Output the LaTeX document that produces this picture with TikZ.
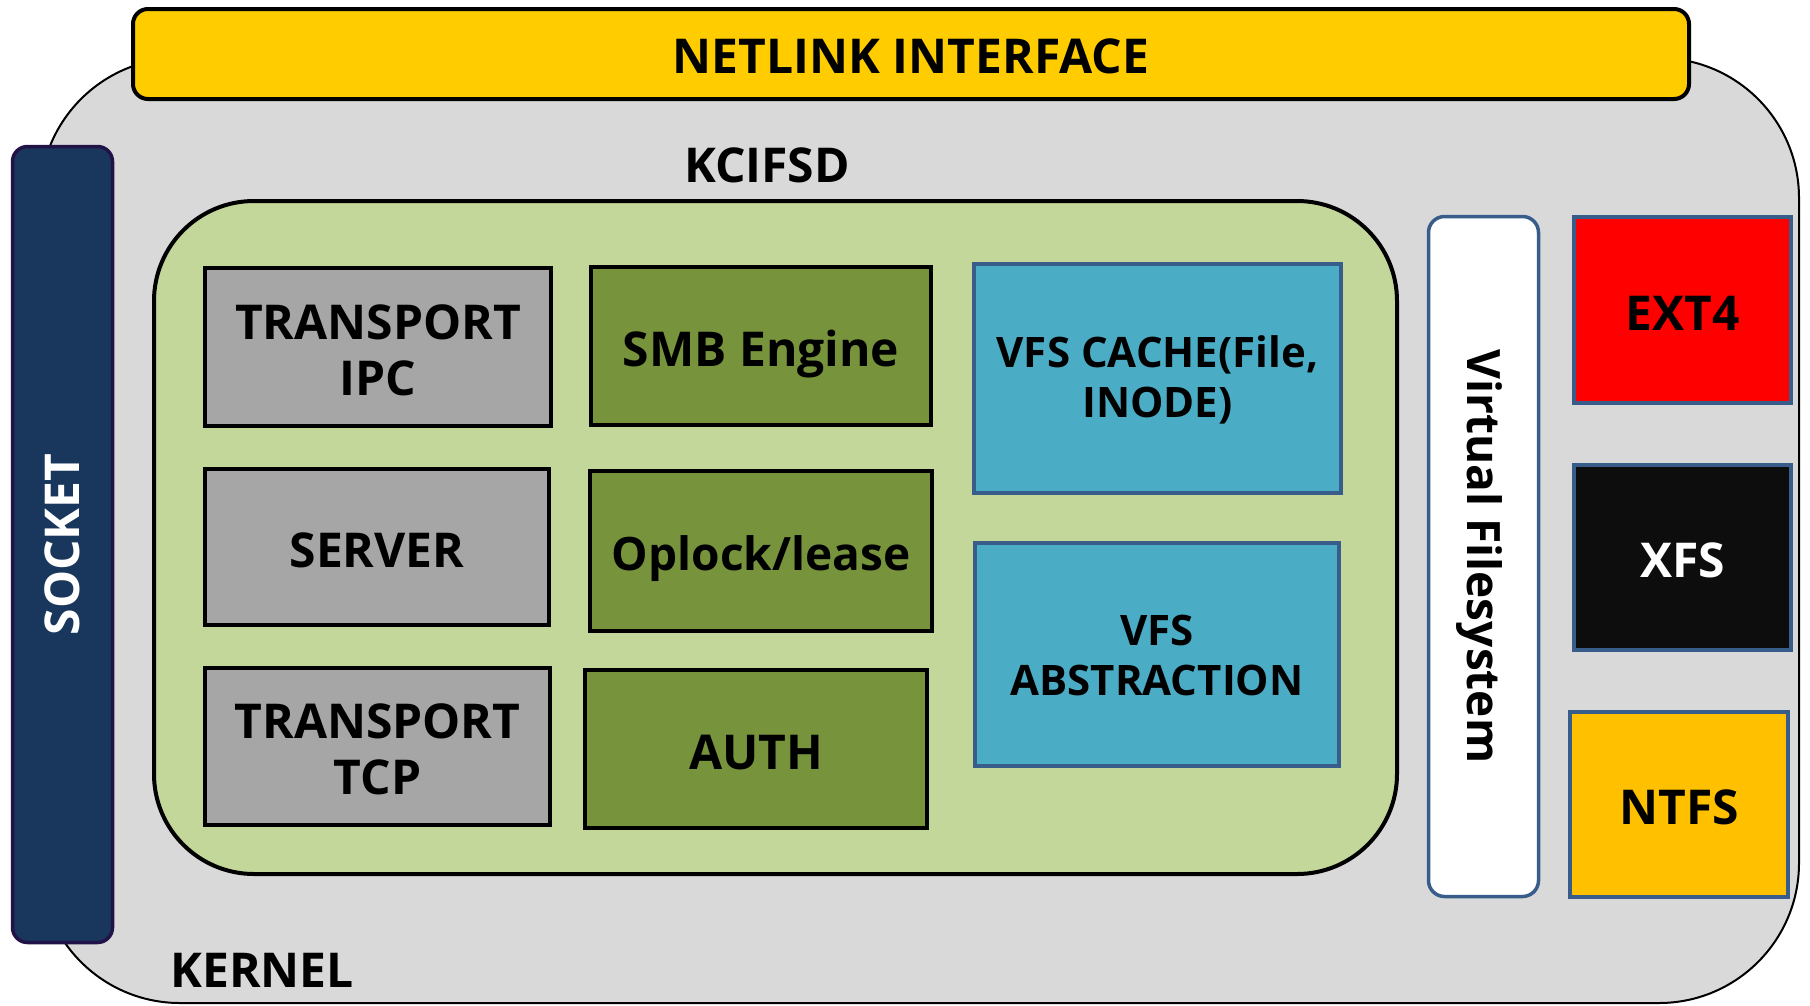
\documentclass[tikz,border=0pt]{standalone}
\usepackage{fontspec}
\setmainfont{Open Sans}
\definecolor{kgray}{RGB}{217,217,217}
\definecolor{netyellow}{RGB}{255,204,0}
\definecolor{socknavy}{RGB}{25,54,92}
\definecolor{sockborder}{RGB}{34,19,70}
\definecolor{lightgreen}{RGB}{196,215,155}
\definecolor{boxgray}{RGB}{166,166,166}
\definecolor{olive}{RGB}{119,147,60}
\definecolor{vfsblue}{RGB}{75,172,198}
\definecolor{steel}{RGB}{56,93,138}
\definecolor{ntfsorange}{RGB}{255,192,0}
\definecolor{xfsblack}{RGB}{13,13,13}
\tikzset{
  lbl/.style={font=\fontsize{48}{56}\selectfont\bfseries, align=center, text=black},
  one/.style={text height=40pt, text depth=0pt},
  blk/.style={draw=black, line width=4pt, inner sep=0pt, lbl},
  grbox/.style={blk, fill=boxgray},
  olbox/.style={blk, fill=olive},
  bluebox/.style={draw=steel, line width=4pt, inner sep=0pt, fill=vfsblue},
  bluelbl/.style={lbl, font=\fontsize{42}{50}\selectfont\bfseries},
  fsbox/.style={draw=steel, line width=3.5pt, inner sep=0pt, lbl, one},
}
\begin{document}
\begin{tikzpicture}[x=1pt,y=-1pt]
\useasboundingbox (0,0) rectangle (1810,1005);
% kernel
\node[draw=black, line width=2pt, fill=kgray, rounded corners=140pt, inner sep=0pt,
      minimum width=1759pt, minimum height=945pt] (kernel) at (919.5,530.5) {};
\node[lbl] (kernellbl) at (262,970) {KERNEL};
% netlink
\node[draw=black, line width=4pt, fill=netyellow, rounded corners=15pt, inner sep=0pt, lbl,
      text height=39pt, text depth=0pt,
      minimum width=1556pt, minimum height=90pt] (netlink) at (911,54) {NETLINK INTERFACE};
% socket
\node[draw=sockborder, line width=3.5pt, fill=socknavy, rounded corners=15pt, inner sep=0pt,
      minimum width=100pt, minimum height=796pt] (socket) at (62.5,544.5) {};
\node[lbl, text=white, rotate=90, text height=34.3pt, text depth=0pt] (socketlbl) at (socket.center) {SOCKET};
% kcifsd
\node[lbl] (kcifsdlbl) at (767,165) {KCIFSD};
\node[draw=black, line width=4pt, fill=lightgreen, rounded corners=100pt, inner sep=0pt,
      minimum width=1243pt, minimum height=673pt] (kcifsd) at (775.5,537.5) {};
% gray boxes
\node[grbox, minimum width=346pt, minimum height=158pt] (tipc) at (378,347) {};
\node[lbl] (tipclbl) at ([yshift=-3pt]tipc.center) {TRANSPORT\\IPC};
\node[grbox, one, minimum width=344pt, minimum height=156pt] (server) at (377,547) {SERVER};
\node[grbox, minimum width=345pt, minimum height=157pt] (ttcp) at (377.5,746.5) {};
\node[lbl] (ttcplbl) at ([yshift=-2.5pt]ttcp.center) {TRANSPORT\\TCP};
% olive boxes
\node[olbox, one, minimum width=340pt, minimum height=158pt] (smb) at (761,346) {SMB Engine};
\node[olbox, font=\fontsize{46}{54}\selectfont\bfseries, text height=38.8pt, text depth=0pt,
      minimum width=342pt, minimum height=160pt] (oplock) at (761,551) {Oplock/lease};
\node[olbox, one, minimum width=342pt, minimum height=158pt] (auth) at (756,749) {AUTH};
% blue boxes
\node[bluebox, minimum width=367pt, minimum height=229pt] (vfscache) at (1157.5,378.5) {};
\node[bluelbl] (vfscachelbl) at ([yshift=-1pt]vfscache.center) {VFS CACHE(File,\\INODE)};
\node[bluebox, minimum width=364pt, minimum height=223pt] (vfsabs) at (1157,654.5) {};
\node[bluelbl] (vfsabslbl) at ([yshift=-1pt]vfsabs.center) {VFS\\ABSTRACTION};
% virtual filesystem
\node[draw=steel, line width=3.5pt, fill=white, rounded corners=16pt, inner sep=0pt,
      minimum width=110pt, minimum height=680pt] (vfs) at (1483.5,556.5) {};
\node[lbl, font=\fontsize{46}{54}\selectfont\bfseries, rotate=-90, text height=32.8pt, text depth=0pt]
      (vfslbl) at (vfs.center) {Virtual Filesystem};
% file systems
\node[fsbox, fill=red, minimum width=217pt, minimum height=186pt] (ext4) at (1682.5,310) {EXT4};
\node[fsbox, fill=xfsblack, text=white, minimum width=217pt, minimum height=185pt] (xfs) at (1682.5,557.5) {XFS};
\node[fsbox, fill=ntfsorange, minimum width=218pt, minimum height=185pt] (ntfs) at (1679,804.5) {NTFS};
\end{tikzpicture}
\end{document}
